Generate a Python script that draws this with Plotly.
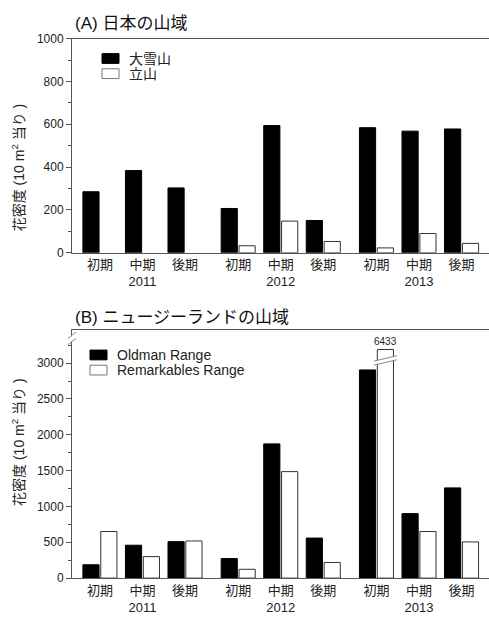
import plotly.graph_objects as go

# ---------------- data ----------------
years = ["2011", "2012", "2013"]
periods = ["初期", "中期", "後期"]

# Panel A: Japan (flower density per 10 m2)
series_a = ["大雪山", "立山"]
taisetsu = [285, 384, 303, 207, 594, 151, 584, 568, 578]
tateyama = [None, None, None, 33, 148, 53, 23, 90, 44]

# Panel B: New Zealand
series_b = ["Oldman Range", "Remarkables Range"]
oldman = [186, 459, 509, 273, 1873, 559, 2905, 900, 1259]
remarkables = [650, 300, 518, 123, 1486, 218, 6433, 650, 505]

title_a = "(A) 日本の山域"
title_b = "(B) ニュージーランドの山域"
ytitle = "花密度 (10 m<sup>2</sup> 当り )"

# ---------------- layout helpers ----------------
GROUP_STEP = 3.25
xpos = [g * GROUP_STEP + i for g in range(len(years)) for i in range(len(periods))]
ticktext = []
for g, yr in enumerate(years):
    for i, p in enumerate(periods):
        ticktext.append(p + ("<br>" + yr if i == 1 else ""))

CAP_B = 3190  # display cap for the broken bar
rem_display = [min(v, CAP_B) for v in remarkables]

FONT = "Liberation Sans, Arial, Noto Sans CJK JP, sans-serif"
AX = "#555555"
H = 620.0
W = 489.0

def py(px):
    return 1 - px / H

def pxx(px):
    return px / W

FILL = ["black", "white"]
EDGE = ["black", "#333333"]

fig = go.Figure()
bw = 0.38
offs = [-0.40, 0.02]
for k, (name, vals) in enumerate(zip(series_a, [taisetsu, tateyama])):
    fig.add_trace(go.Bar(x=xpos, y=vals, name=name, width=bw, offset=offs[k],
                         marker=dict(color=FILL[k], line=dict(color=EDGE[k], width=1)),
                         xaxis="x", yaxis="y", showlegend=False))
for k, (name, vals) in enumerate(zip(series_b, [oldman, rem_display])):
    fig.add_trace(go.Bar(x=xpos, y=vals, name=name, width=bw, offset=offs[k],
                         marker=dict(color=FILL[k], line=dict(color=EDGE[k], width=1)),
                         xaxis="x2", yaxis="y2", showlegend=False))

xr = [-0.656, 9.145]
xcommon = dict(range=xr, tickvals=xpos, ticktext=ticktext, showline=True, mirror=True, linecolor=AX, linewidth=1,
               ticks="", showgrid=False, zeroline=False, tickfont=dict(size=13, color="#222", family=FONT))
ycommon = dict(showline=True, linecolor=AX, linewidth=1, ticks="outside", ticklen=5, tickcolor=AX,
               showgrid=False, zeroline=False, tickfont=dict(size=12, color="#222", family=FONT))

dom_x = [pxx(72), 1.0]
fig.update_layout(
    width=489, height=620,
    margin=dict(l=0, r=0, t=0, b=0),
    paper_bgcolor="white", plot_bgcolor="white",
    font=dict(family=FONT, color="#222"),
    barmode="overlay",
    showlegend=False,
    xaxis=dict(domain=dom_x, anchor="y", **xcommon),
    yaxis=dict(domain=[py(251.5), py(32.3)], anchor="x", range=[0, 1000], dtick=200,
               minor=dict(dtick=100, ticks="outside", ticklen=3, tickcolor=AX), **ycommon),
    xaxis2=dict(domain=dom_x, anchor="y2", **xcommon),
    yaxis2=dict(domain=[py(584.3), py(330.7)], anchor="x2", range=[0, 3459], dtick=500,
                minor=dict(dtick=250, ticks="outside", ticklen=3, tickcolor=AX), **ycommon),
)

ann = []
shapes = []
ann.append(dict(text=title_a, x=pxx(73), y=py(17), xref="paper", yref="paper", xanchor="left", yanchor="middle",
                showarrow=False, font=dict(size=17, family=FONT, color="#111")))
ann.append(dict(text=title_b, x=pxx(73), y=py(318), xref="paper", yref="paper", xanchor="left", yanchor="middle",
                showarrow=False, font=dict(size=17, family=FONT, color="#111")))
ann.append(dict(text=ytitle, x=pxx(18), y=py(164), xref="paper", yref="paper", textangle=-90,
                xanchor="center", yanchor="middle", showarrow=False, font=dict(size=14, family=FONT, color="#222")))
ann.append(dict(text=ytitle, x=pxx(18), y=py(445), xref="paper", yref="paper", textangle=-90,
                xanchor="center", yanchor="middle", showarrow=False, font=dict(size=14, family=FONT, color="#222")))

# legends (swatch + label), one per panel
def add_legend(names, x_left, y_top, row_h):
    for k, name in enumerate(names):
        yc = y_top + 5 + k * row_h
        shapes.append(dict(type="rect", xref="paper", yref="paper",
                           x0=pxx(x_left), x1=pxx(x_left + 17), y0=py(yc - 5), y1=py(yc + 5),
                           fillcolor=FILL[k], line=dict(color=EDGE[k] if k == 0 else "#777", width=1)))
        ann.append(dict(text=name, x=pxx(x_left + 25), y=py(yc), xref="paper", yref="paper",
                        xanchor="left", yanchor="middle", showarrow=False,
                        font=dict(size=14, family=FONT, color="#222")))

add_legend(series_a, 102, 47.7, 15.5)
add_legend(series_b, 90, 351, 15.5)

# label and break band for the broken bar
for xv, v, d in zip(xpos, remarkables, rem_display):
    if v > d:
        xc = xv + offs[1] + bw / 2
        ann.append(dict(text=str(v), x=xc, y=d, xref="x2", yref="y2", yanchor="bottom", yshift=1,
                        showarrow=False, font=dict(size=10, family=FONT, color="#222")))
        x0, x1 = xc - 0.27, xc + 0.27
        shapes.append(dict(type="line", xref="x2", yref="y2", x0=x0, x1=x1, y0=3000, y1=3075,
                           line=dict(color="white", width=4)))
        for dy in (-28, 28):
            shapes.append(dict(type="line", xref="x2", yref="y2", x0=x0, x1=x1, y0=3000 + dy, y1=3075 + dy,
                               line=dict(color="#888", width=1)))

# break mark on the y axis of panel B
shapes.append(dict(type="line", xref="x2 domain", yref="y2", x0=-0.010, x1=0.010, y0=3300, y1=3390,
                   line=dict(color="white", width=4)))
for dy in (-45, 45):
    shapes.append(dict(type="line", xref="x2 domain", yref="y2", x0=-0.010, x1=0.010, y0=3300 + dy, y1=3390 + dy,
                       line=dict(color="#888", width=1)))

fig.update_layout(annotations=ann, shapes=shapes)
fig.write_html(
    "out.html", config={"displayModeBar": False},
    post_script=("document.documentElement.style.margin='0';document.body.style.margin='0';"
                 "document.body.style.overflow='hidden';"
                 "var d=document.getElementById('{plot_id}');"
                 "d.style.position='fixed';d.style.left='0px';d.style.top='0px';"))
